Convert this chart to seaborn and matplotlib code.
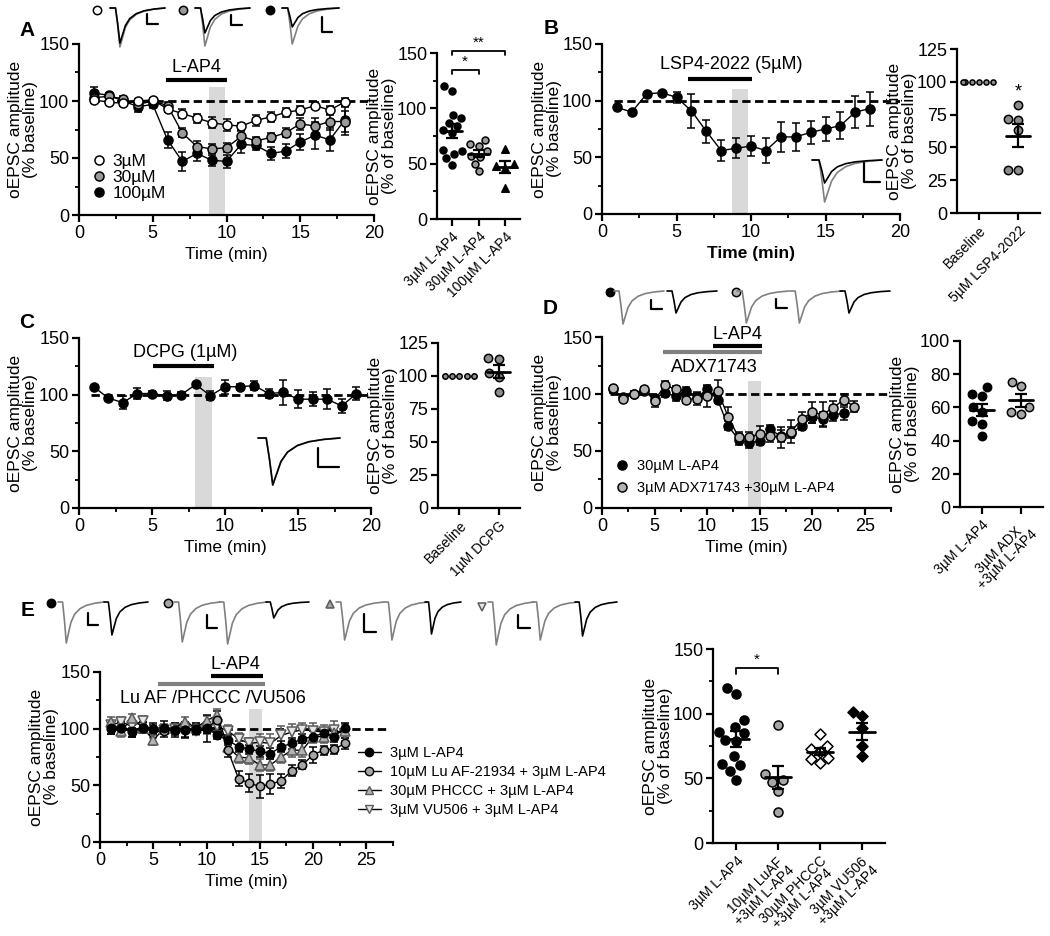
import matplotlib

matplotlib.use("Agg")

import matplotlib.pyplot as plt
import numpy as np
import seaborn as sns
from matplotlib.lines import Line2D
from matplotlib.ticker import MultipleLocator

W, H = 1050, 936

# ---------------- data ----------------
# A: L-AP4 dose response
a_time = list(range(1, 19))
a_3uM = [101, 99, 98, 100, 101, 93, 89, 85, 81, 79, 78, 83, 86, 90, 92, 96, 92, 99]
a_3uM_err = [3, 2, 2, 2, 2, 3, 4, 4, 5, 5, 3, 5, 4, 4, 4, 3, 4, 4]
a_30uM = [103, 104, 102, 97, 100, 96, 72, 60, 58, 59, 69, 65, 68, 72, 80, 78, 82, 82]
a_30uM_err = [3, 2, 2, 3, 2, 3, 4, 5, 4, 4, 5, 3, 4, 4, 5, 7, 7, 9]
a_100uM = [107, 105, 100, 95, 97, 66, 47, 54, 48, 47, 62, 61, 54, 56, 64, 70, 66, 83]
a_100uM_err = [5, 2, 3, 5, 3, 7, 8, 7, 5, 6, 8, 4, 6, 6, 7, 12, 10, 13]
a_cats = ["3µM L-AP4", "30µM L-AP4", "100µM L-AP4"]
a_dots_3 = [120, 116, 94, 91, 87, 84, 80, 78, 62, 61, 59, 55, 49]
a_dots_30 = [71, 68, 66, 61, 57, 56, 50, 43]
a_dots_100 = [63, 50, 48, 46, 28]

# B: LSP4-2022
b_time = list(range(1, 19))
b_mean = [94, 90, 106, 107, 103, 91, 73, 56, 58, 60, 56, 68, 68, 72, 75, 78, 90, 93]
b_err = [0, 0, 0, 0, 5, 15, 10, 9, 9, 9, 11, 13, 12, 10, 11, 12, 14, 15]
b_cats = ["Baseline", "5µM LSP4-2022"]
b_dots_base = [100, 100, 100, 100, 100, 100]
b_dots_drug = [82, 72, 71, 63, 33, 33]

# C: DCPG
c_time = list(range(1, 20))
c_mean = [107, 97, 93, 101, 101, 99, 100, 109, 99, 107, 107, 108, 101, 102, 96, 96, 96, 90, 101]
c_err = [0, 0, 6, 5, 2, 4, 2, 0, 4, 6, 2, 4, 4, 11, 8, 6, 9, 6, 6]
c_cats = ["Baseline", "1µM DCPG"]
c_dots_base = [100, 100, 100, 100, 100]
c_dots_drug = [114, 113, 102, 99, 88]

# D: ADX71743 + L-AP4
d_time_lap4 = list(range(1, 24))
d_lap4 = [104, 97, 100, 103, 96, 101, 98, 103, 97, 104, 95, 72, 60, 57, 59, 69, 63, 66, 72, 80, 78, 82, 83]
d_lap4_err = [3, 3, 3, 3, 3, 4, 4, 3, 4, 4, 3, 4, 5, 4, 4, 4, 5, 5, 4, 5, 6, 6, 6]
d_time_adx = list(range(1, 25))
d_adx = [105, 96, 100, 104, 94, 108, 104, 95, 96, 98, 103, 80, 62, 62, 65, 63, 62, 67, 78, 84, 82, 88, 95, 89]
d_adx_err = [2, 2, 2, 2, 5, 3, 3, 3, 6, 9, 9, 9, 5, 5, 7, 5, 9, 10, 6, 9, 11, 6, 5, 5]
d_cats = ["3µM L-AP4", "3µM ADX\n+3µM L-AP4"]
d_dots_lap4 = [72, 68, 67, 60, 57, 52, 50, 43]
d_dots_adx = [75, 73, 60, 57, 56]

# E: PAMs + L-AP4
e_time = list(range(1, 24))
e_lap4 = [100, 101, 98, 101, 100, 101, 99, 99, 100, 101, 94, 90, 84, 82, 80, 78, 84, 87, 91, 93, 96, 93, 101]
e_lap4_err = [5, 5, 5, 5, 5, 6, 6, 6, 5, 5, 3, 4, 5, 4, 5, 5, 5, 5, 4, 5, 4, 5, 4]
e_luaf = [101, 101, 97, 101, 100, 98, 99, 99, 99, 100, 108, 81, 56, 52, 49, 51, 54, 63, 68, 77, 81, 82, 87]
e_luaf_err = [6, 6, 4, 5, 3, 5, 5, 7, 4, 12, 8, 6, 7, 8, 10, 9, 6, 5, 4, 7, 4, 4, 5]
e_phccc = [106, 98, 109, 101, 90, 100, 101, 106, 101, 107, 112, 84, 75, 74, 68, 68, 75, 81, 81, 93, 93, 96, 98]
e_phccc_err = [4, 5, 4, 4, 4, 4, 4, 4, 4, 4, 5, 5, 5, 5, 5, 5, 5, 6, 6, 6, 6, 6, 6]
e_vu506 = [103, 106, 102, 107, 96, 99, 100, 101, 98, 99, 102, 98, 91, 87, 88, 87, 94, 97, 99, 98, 97, 99, 95]
e_vu506_err = [4, 4, 4, 4, 4, 4, 4, 4, 4, 4, 4, 5, 5, 5, 7, 8, 8, 7, 6, 7, 6, 8, 6]
e_cats = ["3µM L-AP4", "10µM LuAF\n+3µM L-AP4", "30µM PHCCC\n+3µM L-AP4", "3µM VU506\n+3µM L-AP4"]
e_dots_lap4 = [120, 115, 95, 90, 86, 85, 80, 79, 67, 61, 60, 56, 49]
e_dots_luaf = [91, 53, 49, 47, 40, 24]
e_dots_phccc = [84, 75, 73, 70, 66, 65, 62]
e_dots_vu506 = [101, 98, 89, 75, 67]

# sampling windows (minutes)
a_window, b_window, c_window = (8.8, 9.9), (8.7, 9.8), (7.95, 9.1)
d_window, e_window = (13.9, 15.1), (14.0, 15.2)

# EPSC trace template (normalised time, normalised current)
trace_t = np.array([0, 0.10, 0.14, 0.18, 0.22, 0.28, 0.36, 0.48, 0.62, 0.80, 1.0])
trace_v = np.array([0, 0, -0.45, -1.0, -0.80, -0.50, -0.30, -0.16, -0.08, -0.03, 0])

# ---------------- style ----------------
sns.set_style("ticks")
plt.rcParams.update({
    "font.family": ["Liberation Sans", "DejaVu Sans"],
    "font.size": 12,
    "text.color": "black",
    "axes.edgecolor": "black",
    "axes.labelcolor": "black",
    "axes.linewidth": 1.6,
    "xtick.color": "black",
    "ytick.color": "black",
    "xtick.major.width": 1.6,
    "ytick.major.width": 1.6,
    "xtick.minor.width": 1.3,
    "ytick.minor.width": 1.3,
    "xtick.major.size": 5,
    "ytick.major.size": 5,
    "xtick.minor.size": 3,
    "ytick.minor.size": 3,
    "xtick.major.pad": 2.5,
    "ytick.major.pad": 2,
    "xtick.labelsize": 13,
    "ytick.labelsize": 13,
    "axes.labelsize": 12.5,
})

fig = plt.figure(figsize=(W / 100, H / 100), dpi=100)


def box(l, t, r, b):
    return fig.add_axes([l / W, 1 - b / H, (r - l) / W, (b - t) / H])


def timecourse(ax, t, y, err, face, marker="o", ms=6.5, edge="black", z=3):
    sns.lineplot(x=t, y=y, ax=ax, color="black", lw=1, marker=marker, markersize=ms,
                 markerfacecolor=face, markeredgecolor=edge, markeredgewidth=1.1,
                 estimator=None, zorder=z)
    ax.errorbar(t, y, yerr=err, fmt="none", ecolor=edge, elinewidth=1.1, capsize=3,
                capthick=1.1, zorder=z - 0.5)


def tc_axes(ax, xmax, xmaj, dash_to, xbold=False, pad=1):
    ax.set_xlim(0, xmax)
    ax.set_ylim(0, 150)
    ax.xaxis.set_major_locator(MultipleLocator(xmaj))
    ax.xaxis.set_minor_locator(MultipleLocator(xmaj / 2))
    ax.yaxis.set_major_locator(MultipleLocator(50))
    ax.yaxis.set_minor_locator(MultipleLocator(25))
    ax.plot([0.8, dash_to], [100, 100], color="black", lw=2, ls=(0, (3, 1.6)), zorder=1)
    ax.set_xlabel("Time (min)", fontweight="bold" if xbold else "normal", labelpad=3)
    ax.set_ylabel("oEPSC amplitude\n(% baseline)", linespacing=1.0, labelpad=pad)
    sns.despine(ax=ax)


def window(ax, span, top):
    ax.fill_between(list(span), 0, top, color="#d9d9d9", lw=0, zorder=0)


def drugbar(ax, x0, x1, y, color="black"):
    ax.plot([x0, x1], [y, y], color=color, lw=3, solid_capstyle="butt", zorder=2)


def dots(ax, groups, cats, ylim, major, minor=None, half=0.3, rot_size=10, pad=0):
    for i, (vals, marker, face, size) in enumerate(groups):
        sns.swarmplot(x=[cats[i]] * len(vals), y=vals, order=cats, ax=ax, marker=marker,
                      color=face, edgecolor="black", linewidth=1.1, size=size, zorder=3,
                      warn_thresh=1)
        sem = np.std(vals, ddof=1) / np.sqrt(len(vals))
        if sem > 0:
            m = np.mean(vals)
            ax.plot([i - half, i + half], [m, m], color="black", lw=2, zorder=4)
            ax.errorbar(i, m, yerr=sem, fmt="none", ecolor="black", elinewidth=1.6,
                        capsize=4.5, capthick=1.6, zorder=4)
    n = len(cats)
    ax.set_xlim(-0.55, n - 0.45)
    ax.set_ylim(*ylim)
    ax.yaxis.set_major_locator(MultipleLocator(major))
    if minor:
        ax.yaxis.set_minor_locator(MultipleLocator(minor))
    ax.set_xticks(range(n))
    ax.set_xticklabels(cats, rotation=45, ha="right", rotation_mode="anchor",
                       fontsize=rot_size, multialignment="center", linespacing=0.9)
    ax.set_xlabel("")
    ax.set_ylabel("oEPSC amplitude\n(% of baseline)", linespacing=1.0, labelpad=pad)
    sns.despine(ax=ax)


def bracket(ax, x0, x1, y, txt):
    ax.plot([x0, x0, x1, x1], [y - 4, y, y, y - 4], color="black", lw=1.3, clip_on=False)
    ax.text((x0 + x1) / 2, y + 1, txt, ha="center", va="bottom", fontsize=11)


# ---------------- Panel A ----------------
ax = box(79, 44, 374, 215)
window(ax, a_window, 112)
timecourse(ax, a_time, a_100uM, a_100uM_err, "black")
timecourse(ax, a_time, a_30uM, a_30uM_err, "#9a9a9a")
timecourse(ax, a_time, a_3uM, a_3uM_err, "white")
drugbar(ax, 5.9, 10.0, 118)
ax.text(7.95, 122, "L-AP4", ha="center", va="bottom", fontsize=13)
tc_axes(ax, 20, 5, 20)
hs = [Line2D([], [], ls="none", marker="o", ms=6.5, mfc=c, mec="black", mew=1.1)
      for c in ["white", "#9a9a9a", "black"]]
ax.legend(hs, ["3µM", "30µM", "100µM"], loc="upper left", bbox_to_anchor=(0.02, 0.40),
          frameon=False, handlelength=0.8, handletextpad=0.4, labelspacing=0.05,
          borderaxespad=0, fontsize=12.5)

ax = box(437, 53, 520, 219)
dots(ax, [(a_dots_3, "o", "black", 5.0), (a_dots_30, "o", "#9a9a9a", 5.0),
          (a_dots_100, "^", "black", 5.4)], a_cats, (0, 150), 50, 25, half=0.38, pad=0)
bracket(ax, 0, 1, 135, "*")
bracket(ax, 0, 2, 152, "**")

# ---------------- Panel B ----------------
ax = box(602, 44, 900, 214)
window(ax, b_window, 110)
timecourse(ax, b_time, b_mean, b_err, "black")
drugbar(ax, 5.8, 10.1, 119.5)
ax.text(8.7, 124, "LSP4-2022 (5µM)", ha="center", va="bottom", fontsize=13)
tc_axes(ax, 20, 5, 20, xbold=True, pad=0)

ax = box(957, 49, 1040, 213)
dots(ax, [(b_dots_base, "o", "#8c8c8c", 3.7), (b_dots_drug, "o", "#8c8c8c", 6.0)],
     b_cats, (0, 125), 25, pad=0)
ax.text(1, 86, "*", ha="center", va="bottom", fontsize=13)

# ---------------- Panel C ----------------
ax = box(79, 338, 371, 508)
window(ax, c_window, 116)
timecourse(ax, c_time, c_mean, c_err, "black")
drugbar(ax, 5.1, 9.25, 125)
ax.text(7.3, 130, "DCPG (1µM)", ha="center", va="bottom", fontsize=13)
tc_axes(ax, 20, 5, 20)

ax = box(438, 343, 520, 508)
dots(ax, [(c_dots_base, "o", "#8c8c8c", 3.9), (c_dots_drug, "o", "#8c8c8c", 6.0)],
     c_cats, (0, 125), 25, pad=0)

# ---------------- Panel D ----------------
ax = box(602, 337, 891, 508)
window(ax, d_window, 111.5)
timecourse(ax, d_time_lap4, d_lap4, d_lap4_err, "black")
timecourse(ax, d_time_adx, d_adx, d_adx_err, "#b3b3b3")
drugbar(ax, 10.6, 15.2, 142)
drugbar(ax, 5.8, 15.2, 137, color="#808080")
ax.text(12.9, 145, "L-AP4", ha="center", va="bottom", fontsize=13)
ax.text(10.7, 131, "ADX71743", ha="center", va="top", fontsize=13)
tc_axes(ax, 27.5, 5, 27.5, pad=0)
hs = [Line2D([], [], ls="none", marker="o", ms=6.5, mfc=c, mec="black", mew=1.1)
      for c in ["black", "#b3b3b3"]]
ax.legend(hs, ["30µM L-AP4", "3µM ADX71743 +30µM L-AP4"], loc="upper left",
          bbox_to_anchor=(0.03, 0.32), frameon=False, handlelength=0.8, handletextpad=0.6,
          labelspacing=0.55, borderaxespad=0, fontsize=10.5)

ax = box(960, 341, 1043, 507)
dots(ax, [(d_dots_lap4, "o", "black", 6.0), (d_dots_adx, "o", "#a6a6a6", 6.0)],
     d_cats, (0, 100), 20, pad=0)

# ---------------- Panel E ----------------
ax = box(100, 672, 393, 842)
window(ax, e_window, 117)
timecourse(ax, e_time, e_vu506, e_vu506_err, "#e6e6e6", marker="v", ms=6.5, edge="#5a5a5a")
timecourse(ax, e_time, e_phccc, e_phccc_err, "#b3b3b3", marker="^", ms=6.5, edge="#5a5a5a")
timecourse(ax, e_time, e_luaf, e_luaf_err, "#a6a6a6", ms=6)
timecourse(ax, e_time, e_lap4, e_lap4_err, "black", ms=6)
drugbar(ax, 10.4, 15.3, 146.5)
drugbar(ax, 5.4, 15.5, 139.7, color="#808080")
ax.text(12.7, 149.5, "L-AP4", ha="center", va="bottom", clip_on=False, fontsize=13)
ax.text(10.6, 134.5, "Lu AF /PHCCC /VU506", ha="center", va="top", fontsize=13)
tc_axes(ax, 27.5, 5, 27.2)
hs = [Line2D([], [], color="black", lw=1, marker="o", ms=6, mfc="black", mec="black"),
      Line2D([], [], color="black", lw=1, marker="o", ms=6, mfc="#a6a6a6", mec="black"),
      Line2D([], [], color="black", lw=1, marker="^", ms=6, mfc="#b3b3b3", mec="#5a5a5a"),
      Line2D([], [], color="black", lw=1, marker="v", ms=6, mfc="#e6e6e6", mec="#5a5a5a")]
ax.legend(hs, ["3µM L-AP4", "10µM Lu AF-21934 + 3µM L-AP4", "30µM PHCCC + 3µM L-AP4",
               "3µM VU506 + 3µM L-AP4"], loc="upper left", bbox_to_anchor=(0.86, 0.6),
          frameon=False, handlelength=1.6, handletextpad=0.6, labelspacing=0.35,
          borderaxespad=0, fontsize=10.5)

ax = box(713, 649, 885, 843)
dots(ax, [(e_dots_lap4, "o", "black", 6.5), (e_dots_luaf, "o", "#a6a6a6", 6.5),
          (e_dots_phccc, "D", "white", 5.6), (e_dots_vu506, "D", "black", 5.6)],
     e_cats, (0, 150), 50, 25, pad=0)
bracket(ax, 0, 1, 135, "*")

# ---------------- panel letters ----------------
for letter, (x, y) in zip("ABCDE", [(27, 31), (551, 28), (27, 323), (550, 308), (28, 611)]):
    fig.text(x / W, 1 - y / H, letter, fontsize=15, fontweight="bold", ha="center", va="center")

# ---------------- example traces (pixel overlay) ----------------
ov = fig.add_axes([0, 0, 1, 1], zorder=10)
ov.set_xlim(0, W)
ov.set_ylim(H, 0)
ov.axis("off")
ov.patch.set_alpha(0)


def trace(x0, y0, w, depth, color):
    ov.plot(x0 + trace_t * w, y0 - trace_v * depth, color=color, lw=1.2)


def scalebar(x, y, w, h):
    ov.plot([x, x, x + w], [y, y + h, y + h], color="black", lw=1.6)


def symbol(x, y, marker, face, edge="black"):
    ov.plot([x], [y], marker=marker, ms=6, mfc=face, mec=edge, mew=1.1)


# A
symbol(97, 10, "o", "white")
trace(110, 8, 55, 39, "#808080")
trace(110, 8, 55, 35, "black")
scalebar(147, 14, 11, 10)
symbol(183, 10, "o", "#9a9a9a")
trace(195, 8, 55, 38, "#808080")
trace(195, 8, 55, 25, "black")
scalebar(231, 15, 11, 10)
symbol(270, 10, "o", "black")
trace(282, 8, 57, 36, "#808080")
trace(282, 8, 57, 19, "black")
scalebar(322, 17, 10, 15)
# B
trace(812, 160, 70, 42, "#808080")
trace(812, 160, 70, 23, "black")
scalebar(864, 163, 16, 19)
# C
trace(258, 438, 82, 47, "#808080")
trace(258, 438, 82, 47, "black")
scalebar(318, 448, 21, 19)
# D
symbol(610, 292, "o", "black")
trace(614, 291, 50, 33, "#808080")
scalebar(651, 300, 11, 9)
trace(667, 291, 50, 22, "black")
symbol(736, 292, "o", "#b3b3b3")
trace(737, 291, 52, 32, "#808080")
scalebar(776, 299, 11, 9)
trace(790, 291, 52, 32, "#808080")
trace(840, 291, 50, 22, "black")
# E
symbol(51, 603, "o", "black")
trace(58, 602, 46, 41, "#808080")
scalebar(88, 613, 10, 12)
trace(104, 602, 44, 33, "black")
symbol(168, 603, "o", "#a6a6a6")
trace(174, 602, 46, 40, "#808080")
scalebar(207, 615, 10, 13)
trace(219, 602, 48, 42, "#808080")
trace(266, 602, 43, 16, "black")
symbol(330, 604, "^", "#a6a6a6", "#5a5a5a")
trace(336, 602, 48, 38, "#808080")
scalebar(364, 614, 12, 18)
trace(384, 602, 44, 38, "#808080")
trace(425, 602, 36, 32, "black")
symbol(482, 607, "v", "#e6e6e6", "#5a5a5a")
trace(488, 602, 46, 43, "#808080")
scalebar(518, 615, 12, 13)
trace(532, 602, 46, 38, "#808080")
trace(575, 602, 42, 34, "black")

fig.savefig("out.png", dpi=100)
plt.close(fig)
